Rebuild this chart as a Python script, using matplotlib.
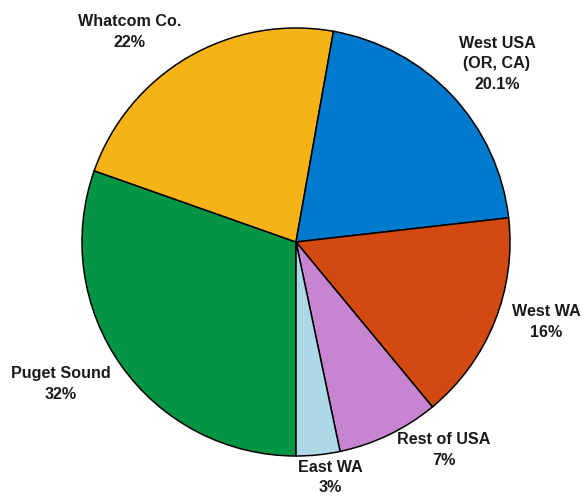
import matplotlib
matplotlib.use("Agg")
import matplotlib.pyplot as plt

# slices in clockwise order, starting at the bottom of the pie
regions = ["Puget Sound", "Whatcom Co.", "West USA\n(OR, CA)", "West WA", "Rest of USA", "East WA"]
shares = [30.4, 22.4, 20.4, 15.8, 7.7, 3.3]
pct_labels = ["32%", "22%", "20.1%", "16%", "7%", "3%"]
colors = ["#039444", "#F5B317", "#007ACC", "#D24A11", "#C785D1", "#ADD8E6"]

# label positions in pie-radius units from the centre
label_pos = [(-1.098, -0.664), (-0.776, 0.981), (0.939, 0.832),
             (1.168, -0.374), (0.692, -0.972), (0.159, -1.100)]

plt.rcParams['font.family'] = ['Liberation Sans', 'DejaVu Sans']

fig = plt.figure(figsize=(5.82, 4.98), dpi=100)
ax = fig.add_axes([0, 0, 1, 1])

ax.pie(shares, colors=colors, startangle=-90, counterclock=False,
       wedgeprops=dict(edgecolor="black", linewidth=1.1))

for name, pct, (x, y) in zip(regions, pct_labels, label_pos):
    ax.text(x, y, name + "\n" + pct, ha="center", va="center",
            fontsize=11.6, fontweight="bold", color="#1a1a1a", linespacing=1.45)

ax.set_xlim(-296 / 214, (582 - 296) / 214)
ax.set_ylim(-(498 - 242) / 214, 242 / 214)
ax.set_aspect("auto")
ax.axis("off")

fig.savefig("out.png", dpi=100, facecolor="white")
